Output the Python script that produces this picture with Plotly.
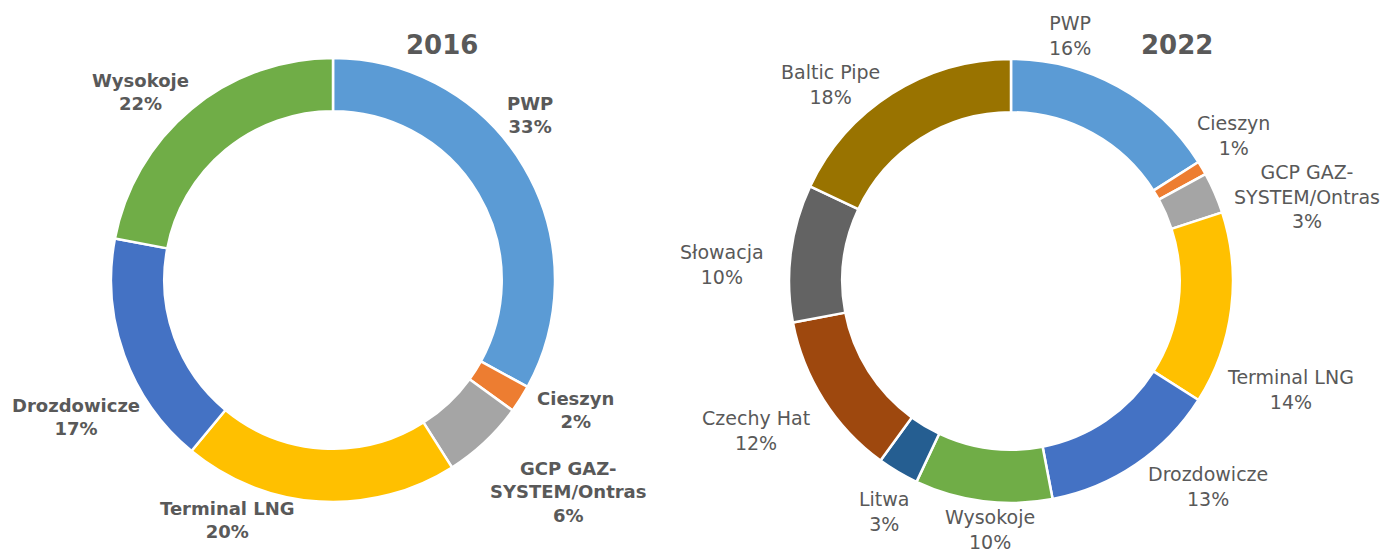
import plotly.graph_objects as go

# ---- data ----
labels_2016 = ["PWP", "Cieszyn", "GCP GAZ-SYSTEM/Ontras", "Terminal LNG", "Drozdowicze", "Wysokoje"]
values_2016 = [33, 2, 6, 20, 17, 22]
text_2016 = ["PWP<br>33%", "Cieszyn<br>2%", "GCP GAZ-<br>SYSTEM/Ontras<br>6%",
             "Terminal LNG<br>20%", "Drozdowicze<br>17%", "Wysokoje<br>22%"]

labels_2022 = ["PWP", "Cieszyn", "GCP GAZ-SYSTEM/Ontras", "Terminal LNG", "Drozdowicze",
               "Wysokoje", "Litwa", "Czechy Hat", "Słowacja", "Baltic Pipe"]
values_2022 = [16, 1, 3, 14, 13, 10, 3, 12, 10, 18]
text_2022 = ["PWP<br>16%", "Cieszyn<br>1%", "GCP GAZ-<br>SYSTEM/Ontras<br>3%",
             "Terminal LNG<br>14%", "Drozdowicze<br>13%", "Wysokoje<br>10%", "Litwa<br>3%",
             "Czechy Hat<br>12%", "Słowacja<br>10%", "Baltic Pipe<br>18%"]

# ---- styles ----
colors = {
    "PWP": "#5B9BD5", "Cieszyn": "#ED7D31", "GCP GAZ-SYSTEM/Ontras": "#A5A5A5",
    "Terminal LNG": "#FFC000", "Drozdowicze": "#4472C4", "Wysokoje": "#70AD47",
    "Litwa": "#255E91", "Czechy Hat": "#9E480E", "Słowacja": "#636363", "Baltic Pipe": "#997300",
}
W, H = 1384, 554
FONT = "DejaVu Sans"
TXT = "#595959"

# label positions (pixel centers)
pos_2016 = [(530, 115), (575, 410), (568, 492), (227, 520), (76, 417), (140, 92)]
pos_2022 = [(1070, 35), (1233, 135), (1307, 197), (1290, 389), (1208, 487),
            (990, 529), (884, 511), (756, 430), (722, 264), (830, 85)]


def dom(cx, cy, r):
    return dict(x=[(cx - r) / W, (cx + r) / W], y=[1 - (cy + r) / H, 1 - (cy - r) / H])


fig = go.Figure()
for labs, vals, (cx, cy) in [(labels_2016, values_2016, (333, 280)),
                             (labels_2022, values_2022, (1011, 281))]:
    fig.add_trace(go.Pie(
        labels=labs, values=vals, hole=0.76, sort=False, direction="clockwise", rotation=0,
        marker=dict(colors=[colors[l] for l in labs], line=dict(color="white", width=2.5)),
        textinfo="none", domain=dom(cx, cy, 222), showlegend=False,
    ))

anns = []
for txts, poss, bold, size in [(text_2016, pos_2016, True, 18), (text_2022, pos_2022, False, 19)]:
    for t, (x, y) in zip(txts, poss):
        tt = "<b>" + t.replace("<br>", "</b><br><b>") + "</b>" if bold else t
        anns.append(dict(text=tt, x=x / W, y=1 - y / H, xref="paper", yref="paper",
                         showarrow=False, xanchor="center", yanchor="middle", align="center",
                         font=dict(family=FONT, size=size, color=TXT)))
for t, (x, y) in [("<b>2016</b>", (442, 45)), ("<b>2022</b>", (1177, 45))]:
    anns.append(dict(text=t, x=x / W, y=1 - y / H, xref="paper", yref="paper",
                     showarrow=False, xanchor="center", yanchor="middle",
                     font=dict(family=FONT, size=26, color=TXT)))

fig.update_layout(width=W, height=H, margin=dict(l=0, r=0, t=0, b=0),
                  paper_bgcolor="white", plot_bgcolor="white", annotations=anns,
                  font=dict(family=FONT, color=TXT))
fig.write_html("out.html", config={"displayModeBar": False},
               post_script="document.body.style.margin='0';")
